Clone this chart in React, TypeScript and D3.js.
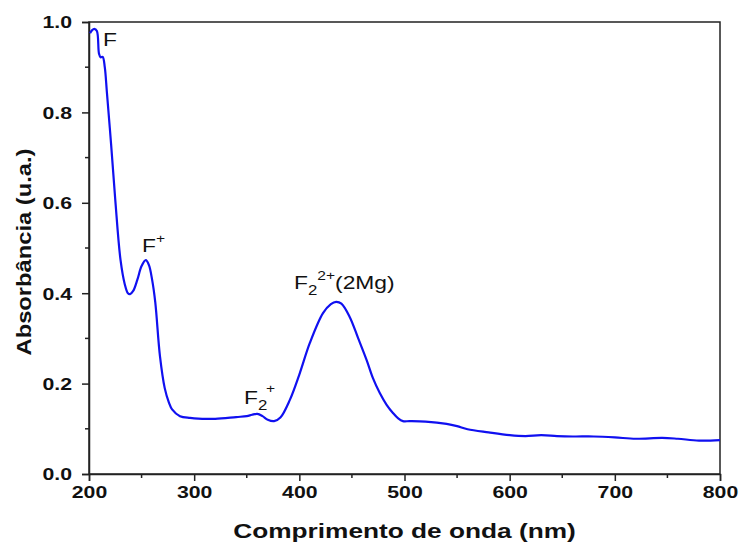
import React, { useRef, useEffect } from "react";
import * as d3 from "d3";

// wavelength (nm) and absorbance
const wavelength = [
  201, 203, 205, 207.5, 209.5, 211, 213, 215, 217, 221, 225, 230, 234, 237, 239,
  242, 246, 250, 254, 257, 260, 263, 267.5, 272, 276, 279, 286.5, 296, 300, 320,
  340, 350, 355, 360, 365, 370, 376, 382, 391, 400, 410, 422.5, 430, 435, 440,
  448, 456, 464, 470, 476.5, 483, 489, 494, 498.5, 505, 520, 540, 550, 560, 580,
  600, 615, 630, 645, 660, 680, 700, 720, 745, 760, 780, 800
];
const absorbance = [
  0.975, 0.982, 0.985, 0.98, 0.93, 0.922, 0.923, 0.9, 0.845, 0.73, 0.606, 0.473,
  0.42, 0.4, 0.398, 0.405, 0.43, 0.46, 0.473, 0.462, 0.43, 0.38, 0.26, 0.19,
  0.158, 0.143, 0.128, 0.124, 0.123, 0.122, 0.126, 0.128, 0.131, 0.133, 0.128,
  0.12, 0.117, 0.125, 0.164, 0.22, 0.29, 0.356, 0.376, 0.381, 0.377, 0.347, 0.3,
  0.252, 0.212, 0.179, 0.153, 0.135, 0.123, 0.117, 0.117, 0.116, 0.111, 0.106,
  0.099, 0.092, 0.086, 0.084, 0.086, 0.084, 0.083, 0.083, 0.081, 0.078, 0.08,
  0.078, 0.074, 0.075
];
const xTicks = [200, 300, 400, 500, 600, 700, 800];
const yTicks = [0.0, 0.2, 0.4, 0.6, 0.8, 1.0];

const W = 740;
const H = 546;
const margin = { top: 22, right: 20, bottom: 72, left: 89 };
// the reference's lettering is stretched sideways
const SX = 1.25;

export default function App() {
  const svgRef = useRef<SVGSVGElement>(null);

  useEffect(() => {
    const svg = d3.select(svgRef.current);
    svg.selectAll("*").remove();

    const x = d3.scaleLinear().domain([200, 800]).range([margin.left, W - margin.right]);
    const y = d3.scaleLinear().domain([0, 1]).range([H - margin.bottom, margin.top]);
    const font = "'Liberation Sans', Arial, sans-serif";

    // frame
    svg
      .append("rect")
      .attr("x", x(200))
      .attr("y", y(1))
      .attr("width", x(800) - x(200))
      .attr("height", y(0) - y(1))
      .attr("fill", "none")
      .attr("stroke", "#222")
      .attr("stroke-width", 1.5);

    const gx = svg
      .append("g")
      .attr("transform", `translate(0,${y(0)})`)
      .call(d3.axisBottom(x).tickValues(xTicks).tickFormat(d3.format("d")).tickSize(7).tickPadding(5));

    const gy = svg
      .append("g")
      .attr("transform", `translate(${x(200)},0)`)
      .call(d3.axisLeft(y).tickValues(yTicks).tickFormat(d3.format(".1f")).tickSize(7).tickPadding(5));

    [gx, gy].forEach((g) => {
      g.select(".domain").attr("stroke", "#222").attr("stroke-width", 1.5);
      g.selectAll(".tick line").attr("stroke", "#222").attr("stroke-width", 1.5);
      g.selectAll(".tick text")
        .attr("fill", "#111")
        .attr("transform", `scale(${SX},1)`)
        .style("font-family", font)
        .style("font-size", "17px")
        .style("font-weight", "bold");
    });
    gy.selectAll(".tick text").attr("x", -17 / SX).attr("dy", "0.35em");

    // minor ticks
    svg
      .append("g")
      .selectAll("line")
      .data([250, 350, 450, 550, 650, 750])
      .join("line")
      .attr("x1", (d) => x(d))
      .attr("x2", (d) => x(d))
      .attr("y1", y(0))
      .attr("y2", y(0) + 4)
      .attr("stroke", "#222")
      .attr("stroke-width", 1.5);
    svg
      .append("g")
      .selectAll("line")
      .data([0.1, 0.3, 0.5, 0.7, 0.9])
      .join("line")
      .attr("x1", x(200))
      .attr("x2", x(200) - 4)
      .attr("y1", (d) => y(d))
      .attr("y2", (d) => y(d))
      .attr("stroke", "#222")
      .attr("stroke-width", 1.5);

    const pts = wavelength.map((w, i) => [w, absorbance[i]] as [number, number]);
    const spectrum = d3
      .line<[number, number]>()
      .x((d) => x(d[0]))
      .y((d) => y(d[1]))
      .curve(d3.curveCatmullRom.alpha(0.5));
    svg
      .append("path")
      .datum(pts)
      .attr("d", spectrum)
      .attr("fill", "none")
      .attr("stroke", "#1010f0")
      .attr("stroke-width", 2.2);

    // axis titles
    svg
      .append("g")
      .attr("transform", `translate(${(x(200) + x(800)) / 2},538) scale(${SX},1)`)
      .append("text")
      .attr("text-anchor", "middle")
      .style("font-family", font)
      .style("font-size", "21px")
      .style("font-weight", "bold")
      .attr("fill", "#111")
      .text("Comprimento de onda (nm)");
    svg
      .append("g")
      .attr("transform", `translate(31,252) rotate(-90) scale(1.13,1)`)
      .append("text")
      .attr("text-anchor", "middle")
      .style("font-family", font)
      .style("font-size", "21px")
      .style("font-weight", "bold")
      .attr("fill", "#111")
      .text("Absorbância (u.a.)");

    // band labels
    const label = (lx: number, ly: number) =>
      svg
        .append("g")
        .attr("transform", `translate(${lx},${ly}) scale(1.2,1)`)
        .append("text")
        .style("font-family", font)
        .style("font-size", "19px")
        .attr("fill", "#111");

    label(103, 46).text("F");

    const fp = label(142, 252);
    fp.append("tspan").text("F");
    fp.append("tspan").attr("dy", -9).style("font-size", "13px").text("+");

    const f2p = label(244, 404);
    f2p.append("tspan").text("F");
    f2p.append("tspan").attr("dy", 6).style("font-size", "14px").text("2");
    f2p.append("tspan").attr("dy", -17).attr("dx", -1).style("font-size", "13px").text("+");

    const f22 = label(294, 289);
    f22.append("tspan").text("F");
    f22.append("tspan").attr("dy", 6).style("font-size", "14px").text("2");
    f22.append("tspan").attr("dy", -15).style("font-size", "13px").text("2+");
    f22.append("tspan").attr("dy", 9).text("(2Mg)");
  }, []);

  return (
    <svg
      ref={svgRef}
      width={W}
      height={H}
      style={{ position: "absolute", left: 0, top: 0, display: "block", background: "#fff" }}
    />
  );
}
